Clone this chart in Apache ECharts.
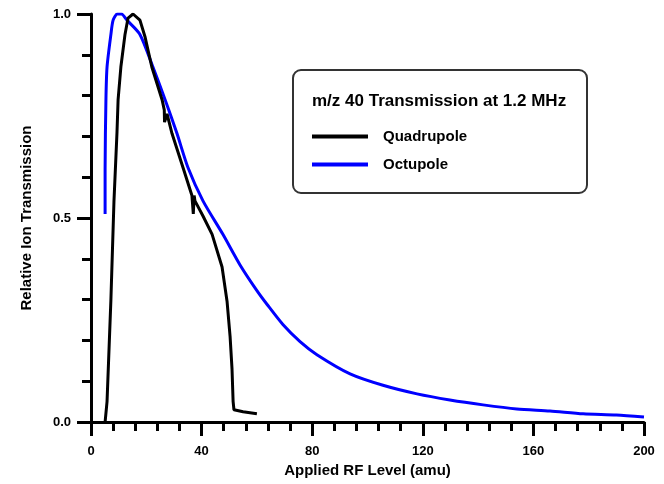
<!DOCTYPE html>
<html>
<head>
<meta charset="utf-8">
<script src="https://cdn.jsdelivr.net/npm/echarts@6/dist/echarts.min.js"></script>
<style>
  html, body { margin: 0; padding: 0; background: #fff; }
  #chart { width: 664px; height: 484px; }
</style>
</head>
<body>
<div id="chart"></div>
<script>
// m/z 40 transmission vs applied RF level
const quadX = [5.1, 5.8, 7.2, 8.3, 9.4, 9.8, 10.8, 12.3, 13.4, 15.2, 17.7, 19.5, 22.0, 25.7, 26.5, 26.6, 27.5, 29.3, 33.3, 36.5, 37.0, 37.3, 37.6, 40.5, 43.8, 47.4, 49.2, 50.3, 51.0, 51.4, 51.7, 55.0, 60.0]
const quadY = [0.0, 0.05, 0.30, 0.54, 0.71, 0.79, 0.87, 0.95, 0.99, 1.0, 0.985, 0.945, 0.87, 0.79, 0.765, 0.735, 0.755, 0.707, 0.623, 0.555, 0.51, 0.555, 0.542, 0.505, 0.46, 0.38, 0.296, 0.21, 0.13, 0.05, 0.03, 0.025, 0.02]

const octX = [5.1, 5.1, 5.4, 5.8, 7.2, 8.0, 9.5, 11.0, 13.0, 17.7, 22.4, 26.8, 31.1, 35.1, 40.5, 47.7, 53.9, 60.0, 63.7, 69.4, 75.6, 81.7, 93.7, 105.6, 117.9, 129.8, 141.8, 154.0, 166.0, 178.0, 190.0, 200.0]
const octY = [0.51, 0.62, 0.79, 0.87, 0.95, 0.985, 1.0, 1.0, 0.985, 0.95, 0.87, 0.79, 0.707, 0.623, 0.542, 0.46, 0.385, 0.322, 0.288, 0.239, 0.197, 0.165, 0.118, 0.09, 0.069, 0.054, 0.042, 0.032, 0.027, 0.02, 0.017, 0.012]

const seriesNames = ['Quadrupole', 'Octupole']
const legendTitle = 'm/z 40 Transmission at 1.2 MHz'
const xTitle = 'Applied RF Level (amu)'
const yTitle = 'Relative Ion Transmission'

const font = '"Liberation Sans", Arial, sans-serif'
const zip = (xs, ys) => xs.map((x, i) => [x, ys[i]])

const chart = echarts.init(document.getElementById('chart'), null, { renderer: 'canvas' })

const axisCommon = {
  type: 'value',
  axisLine: { show: true, lineStyle: { color: '#000', width: 3 } },
  axisTick: { show: true, inside: false, length: 14, lineStyle: { color: '#000', width: 3 } },
  minorTick: { show: true, splitNumber: 5, length: 9, lineStyle: { color: '#000', width: 3 } },
  splitLine: { show: false },
  axisLabel: { color: '#000', fontFamily: font, fontWeight: 'bold', fontSize: 13 },
  nameLocation: 'middle',
  nameTextStyle: { color: '#000', fontFamily: font, fontWeight: 'bold', fontSize: 15 },
}

chart.setOption({
  backgroundColor: '#fff',
  animation: false,
  grid: { left: 91, right: 20, top: 14, bottom: 62 },
  title: {
    text: legendTitle,
    left: 312,
    top: 93,
    padding: 0,
    textStyle: { color: '#000', fontFamily: font, fontWeight: 'bold', fontSize: 17 },
  },
  legend: {
    data: seriesNames,
    orient: 'vertical',
    left: 312,
    top: 129,
    padding: 0,
    icon: 'rect',
    itemWidth: 56,
    itemHeight: 4,
    itemGap: 13,
    textStyle: { color: '#000', fontFamily: font, fontWeight: 'bold', fontSize: 15, padding: [0, 0, 0, 10] },
  },
  graphic: [
    {
      type: 'rect',
      z: 1,
      shape: { x: 293, y: 70, width: 294, height: 123, r: 8 },
      style: { fill: '#fff', stroke: '#333', lineWidth: 2 },
    },
  ],
  xAxis: {
    ...axisCommon,
    min: 0,
    max: 200,
    interval: 40,
    name: xTitle,
    nameGap: 40,
    axisLabel: { ...axisCommon.axisLabel, margin: 23 },
  },
  yAxis: {
    ...axisCommon,
    min: 0,
    max: 1,
    interval: 0.5,
    name: yTitle,
    nameGap: 57,
    axisLabel: { ...axisCommon.axisLabel, margin: 20, formatter: (v) => v.toFixed(1) },
  },
  series: [
    {
      name: seriesNames[0],
      type: 'line',
      data: zip(quadX, quadY),
      symbol: 'none',
      color: '#000',
      lineStyle: { color: '#000', width: 3 },
      z: 3,
    },
    {
      name: seriesNames[1],
      type: 'line',
      data: zip(octX, octY),
      symbol: 'none',
      smooth: 0.25,
      color: '#0000ff',
      lineStyle: { color: '#0000ff', width: 3 },
      z: 2,
    },
  ],
})
</script>
</body>
</html>
